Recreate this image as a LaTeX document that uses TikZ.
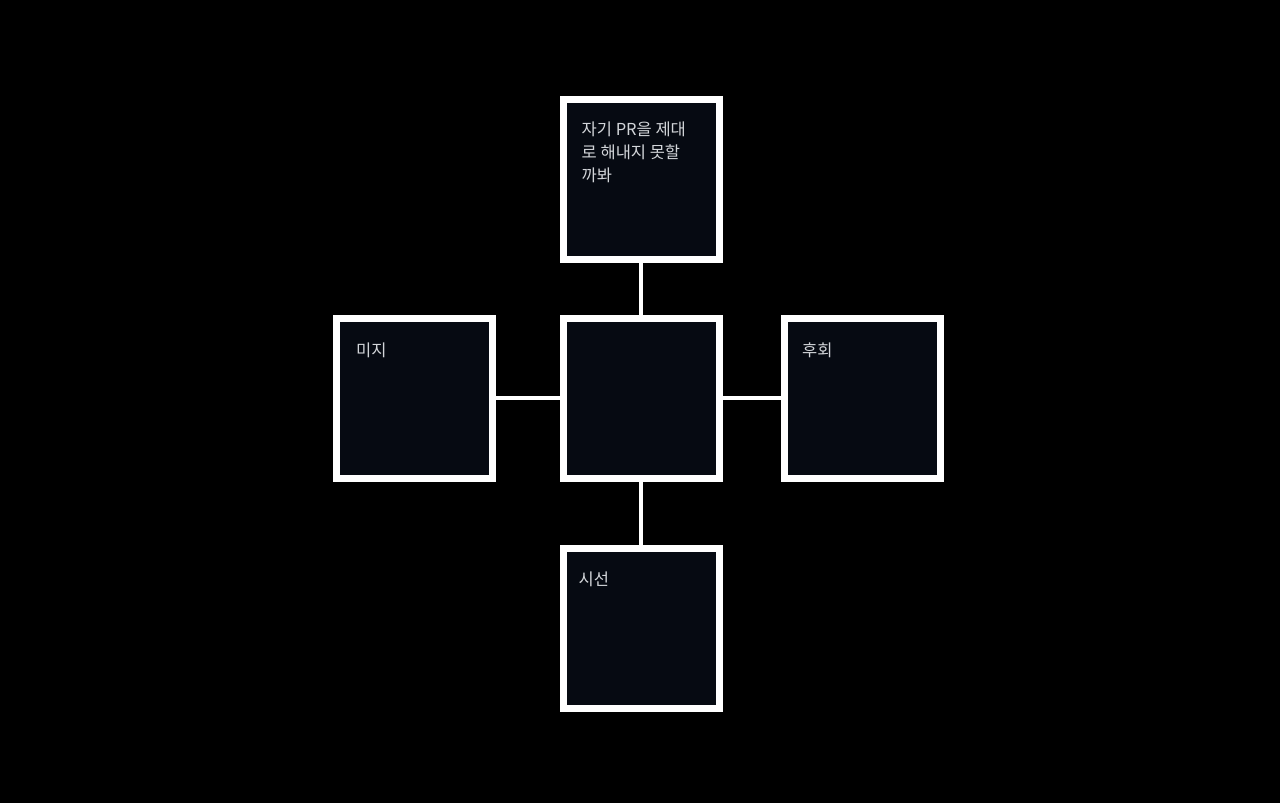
\documentclass[tikz,border=0pt]{standalone}
\usepackage{fontspec}
\newfontfamily\kofont{Noto Sans CJK KR}
\definecolor{boxfill}{HTML}{060A12}
\definecolor{boxtext}{HTML}{D2D5D9}
\begin{document}
\begin{tikzpicture}[x=1pt,y=-1pt,
    worry/.style={rectangle,draw=white,fill=boxfill,line width=7pt,
      minimum width=156pt,minimum height=160pt},
    worrytext/.style={anchor=north west,inner sep=0pt,text=boxtext,
      font=\kofont\fontsize{16.5}{23}\selectfont,align=left},
    link/.style={draw=white,line width=4.5pt}]
  \useasboundingbox[fill=black] (0,0) rectangle (1280,803);
  \node[worry] (center) at (641,398) {};
  \node[worry] (top) at (641,179.5) {};
  \node[worry] (left) at (414.5,398) {};
  \node[worry] (right) at (862.5,398) {};
  \node[worry] (bottom) at (641,628) {};
  \draw[link] (top) -- (center);
  \draw[link] (center) -- (bottom);
  \draw[link] (left) -- (center);
  \draw[link] (center) -- (right);
  \node[worrytext] (toptext) at ([shift={(22,26)}]top.north west)
    {자기 PR을 제대\\로 해내지 못할\\까봐};
  \node[worrytext] (lefttext) at ([shift={(23,28)}]left.north west) {미지};
  \node[worrytext] (righttext) at ([shift={(21,28)}]right.north west) {후회};
  \node[worrytext] (bottomtext) at ([shift={(19,27)}]bottom.north west) {시선};
\end{tikzpicture}
\end{document}
